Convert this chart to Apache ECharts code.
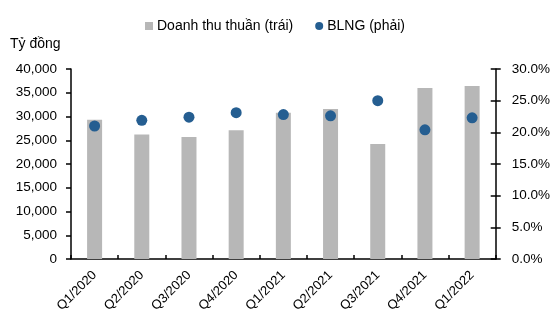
<!DOCTYPE html>
<html>
<head>
<meta charset="utf-8">
<script src="https://cdn.jsdelivr.net/npm/echarts@6/dist/echarts.min.js"></script>
<style>
html,body{margin:0;padding:0;background:#fff;}
#chart{width:553px;height:320px;}
</style>
</head>
<body>
<div id="chart"></div>
<script>
// Quarterly net revenue (billion VND) and gross margin (%)
const categories = ['Q1/2020','Q2/2020','Q3/2020','Q4/2020','Q1/2021','Q2/2021','Q3/2021','Q4/2021','Q1/2022'];
const revenue = [29300, 26200, 25700, 27100, 30800, 31600, 24200, 36000, 36400];
const grossMargin = [21.0, 21.9, 22.4, 23.1, 22.8, 22.6, 25.0, 20.4, 22.3];
const leftTicks = [0, 5000, 10000, 15000, 20000, 25000, 30000, 35000, 40000];
const rightTicks = [0, 5, 10, 15, 20, 25, 30];

const FONT = 'Liberation Sans';
const TXT = '#000';
const chart = echarts.init(document.getElementById('chart'), null, {renderer: 'canvas'});

const axisLine = {show: true, lineStyle: {color: '#000', width: 1.5}};

chart.setOption({
  animation: false,
  textStyle: {fontFamily: FONT},
  legend: {
    top: 14,
    left: 140,
    itemGap: 22,
    itemWidth: 8,
    itemHeight: 8,
    textStyle: {fontFamily: FONT, fontSize: 14, color: TXT, padding: [0, 0, 0, -1]},
    data: [
      {name: 'Doanh thu thuần (trái)', icon: 'rect'},
      {name: 'BLNG (phải)', icon: 'circle'}
    ]
  },
  graphic: [{
    type: 'text', left: 10, top: 37,
    style: {text: 'Tỷ đồng', font: '14px ' + FONT, fill: TXT}
  }],
  grid: {left: 71, right: 57, top: 69, bottom: 61},
  xAxis: {
    type: 'category',
    data: categories,
    axisLine: axisLine,
    axisTick: {show: true, inside: true, length: 4, lineStyle: {color: '#000', width: 1.5}},
    axisLabel: {rotate: 45, fontFamily: FONT, fontSize: 13, color: TXT, margin: 14}
  },
  yAxis: [{
    type: 'value',
    min: leftTicks[0], max: leftTicks[leftTicks.length - 1], interval: 5000,
    position: 'left',
    axisLine: axisLine,
    axisTick: {show: true, length: 5, lineStyle: {color: '#000', width: 1.5}},
    splitLine: {show: false},
    axisLabel: {
      fontFamily: FONT, fontSize: 13.5, color: TXT, margin: 14,
      formatter: v => v.toLocaleString('en-US')
    }
  }, {
    type: 'value',
    min: rightTicks[0], max: rightTicks[rightTicks.length - 1], interval: 5,
    position: 'right',
    axisLine: axisLine,
    axisTick: {show: true, length: 5, lineStyle: {color: '#000', width: 1.5}},
    splitLine: {show: false},
    axisLabel: {
      fontFamily: FONT, fontSize: 13.5, color: TXT, margin: 16,
      formatter: v => v.toFixed(1) + '%'
    }
  }, {
    // inner half of the crossing ticks on the right axis
    type: 'value',
    min: rightTicks[0], max: rightTicks[rightTicks.length - 1], interval: 5,
    position: 'right',
    axisLine: {show: false},
    axisTick: {show: true, inside: true, length: 5, lineStyle: {color: '#000', width: 1.5}},
    axisLabel: {show: false},
    splitLine: {show: false}
  }],
  series: [{
    name: 'Doanh thu thuần (trái)',
    type: 'bar',
    yAxisIndex: 0,
    data: revenue,
    barWidth: 15,
    itemStyle: {color: '#b7b7b7'}
  }, {
    name: 'BLNG (phải)',
    type: 'scatter',
    yAxisIndex: 1,
    data: grossMargin,
    symbol: 'circle',
    symbolSize: 11,
    itemStyle: {color: '#255e91', opacity: 1}
  }]
});
</script>
</body>
</html>
